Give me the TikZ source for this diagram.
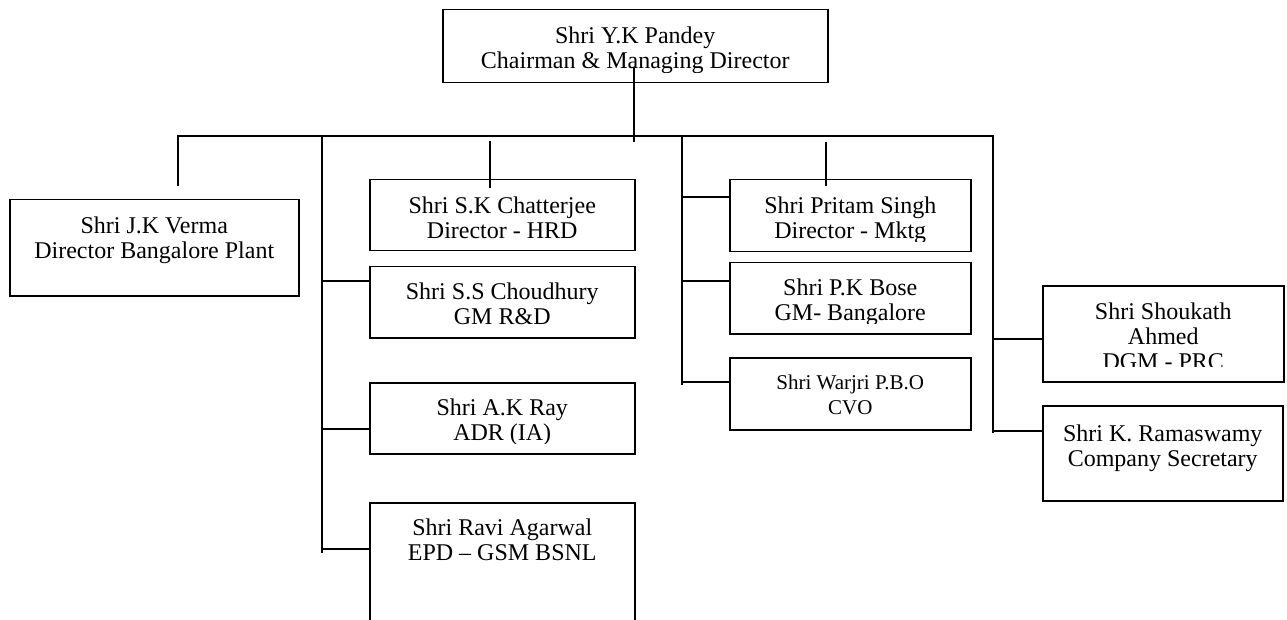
\documentclass[tikz,border=0pt]{standalone}
\usepackage{fontspec}
\setmainfont{Liberation Serif}
\tikzset{
  post/.style={draw, line width=1.5pt, inner sep=0pt, anchor=north west},
  who/.style={anchor=north, align=center, inner sep=0pt, font=\fontsize{24}{25}\selectfont},
  wire/.style={line width=1.6pt},
}
\begin{document}
\begin{tikzpicture}[x=1pt,y=-1pt]
\path[use as bounding box, clip] (0,0) rectangle (1287,620);
% boxes
\node[post, minimum width=385pt, minimum height=73pt] (cmd) at (442,9) {};
\node[post, minimum width=289pt, minimum height=96pt] (verma) at (9,199) {};
\node[post, minimum width=265pt, minimum height=71pt] (skc) at (369,179) {};
\node[post, minimum width=265pt, minimum height=71pt] (ssc) at (369,266) {};
\node[post, minimum width=265pt, minimum height=71pt] (akr) at (369,382) {};
\node[post, minimum width=265pt, minimum height=140pt] (ravi) at (369,502) {};
\node[post, minimum width=241pt, minimum height=72pt] (pritam) at (729,179) {};
\node[post, minimum width=241pt, minimum height=71pt] (pkb) at (729,262) {};
\node[post, minimum width=241pt, minimum height=72pt] (warjri) at (729,357) {};
\node[post, minimum width=241pt, minimum height=96pt] (shoukath) at (1042,285) {};
\node[post, minimum width=240pt, minimum height=95pt] (rama) at (1042,405) {};
% names
\begin{scope}
\clip (cmd.north west) rectangle ([yshift=11pt]cmd.south east);
\node[who] (cmdT) at ([yshift=-18pt]cmd.north) {Shri Y.K Pandey\\Chairman \& Managing Director};
\end{scope}
\node[who] (vermaT) at ([yshift=-18pt]verma.north) {Shri J.K Verma\\Director Bangalore Plant};
\node[who] (skcT) at ([yshift=-18pt]skc.north) {Shri S.K Chatterjee\\Director - HRD};
\node[who] (sscT) at ([yshift=-17pt]ssc.north) {Shri S.S Choudhury\\GM R\&D};
\begin{scope}
\clip (akr.north west) rectangle ([yshift=11pt]akr.south east);
\node[who] (akrT) at ([yshift=-17pt]akr.north) {Shri A.K Ray\\ADR (IA)};
\end{scope}
\node[who] (raviT) at ([yshift=-17pt]ravi.north) {Shri Ravi Agarwal\\EPD -- GSM BSNL};
\begin{scope}
\clip (pritam.north west) rectangle ([yshift=11pt]pritam.south east);
\node[who] (pritamT) at ([yshift=-18pt]pritam.north) {Shri Pritam Singh\\Director - Mktg};
\end{scope}
\begin{scope}
\clip (pkb.north west) rectangle ([yshift=11pt]pkb.south east);
\node[who] (pkbT) at ([yshift=-17pt]pkb.north) {Shri P.K Bose\\GM- Bangalore};
\end{scope}
\node[who, font=\fontsize{21}{25}\selectfont] (warjriT) at ([yshift=-18pt]warjri.north) {Shri Warjri P.B.O\\CVO};
\begin{scope}
\clip (shoukath.north west) rectangle ([yshift=16pt]shoukath.south east);
\node[who] (shoukathT) at ([yshift=-18pt]shoukath.north) {Shri Shoukath\\Ahmed\\DGM - PRC};
\end{scope}
\node[who] (ramaT) at ([yshift=-20pt]rama.north) {Shri K. Ramaswamy\\Company Secretary};
% free ends of the lines
\coordinate (trunkA) at (634,67);
\coordinate (trunkB) at (634,142);
\coordinate (busL) at (177,136);
\coordinate (busR) at (994,136);
\coordinate (vermaA) at (178,136);
\coordinate (vermaB) at (178,186);
\coordinate (skcA) at (490,141);
\coordinate (skcB) at (490,188);
\coordinate (pritamA) at (826,142);
\coordinate (pritamB) at (826,186);
\coordinate (spL) at (322,136);
\coordinate (spLend) at (322,553);
\coordinate (spM) at (682,136);
\coordinate (spMend) at (682,385);
\coordinate (spR) at (993,136);
\coordinate (spRend) at (993,433);
\coordinate (l1) at (322,281);
\coordinate (l2) at (322,429);
\coordinate (l3) at (322,549);
\coordinate (m1) at (682,197);
\coordinate (m2) at (682,281);
\coordinate (m3) at (682,382);
\coordinate (r1) at (993,339);
\coordinate (r2) at (993,431);
% lines
\draw[wire] (trunkA) -- (trunkB);
\draw[wire] (busL) -- (busR);
\draw[wire] (vermaA) -- (vermaB);
\draw[wire] (skcA) -- (skcB);
\draw[wire] (pritamA) -- (pritamB);
\draw[wire] (spL) -- (spLend);
\draw[wire] (spM) -- (spMend);
\draw[wire] (spR) -- (spRend);
\draw[wire] (l1) -- (l1 -| ssc.west);
\draw[wire] (l2) -- (l2 -| akr.west);
\draw[wire] (l3) -- (l3 -| ravi.west);
\draw[wire] (m1) -- (m1 -| pritam.west);
\draw[wire] (m2) -- (m2 -| pkb.west);
\draw[wire] (m3) -- (m3 -| warjri.west);
\draw[wire] (r1) -- (r1 -| shoukath.west);
\draw[wire] (r2) -- (r2 -| rama.west);
\end{tikzpicture}
\end{document}
